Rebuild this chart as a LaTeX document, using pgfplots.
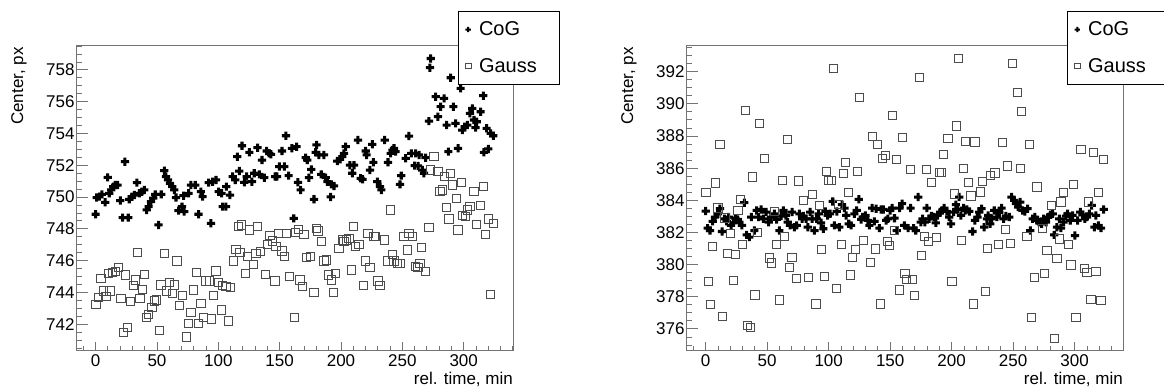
\documentclass[border=0pt]{standalone}
\usepackage{fontspec}
\setmainfont{Liberation Sans}
\usepackage{pgfplots}
\pgfplotsset{compat=1.18}
\newcommand\lbl{\fontsize{17}{20}\selectfont}
\newcommand\lgd{\fontsize{20}{23}\selectfont}
\pgfdeclareplotmark{fatplus}{%
  \pgfpathmoveto{\pgfpoint{-\pgfplotmarksize}{-0.37\pgfplotmarksize}}%
  \pgfpathlineto{\pgfpoint{-0.37\pgfplotmarksize}{-0.37\pgfplotmarksize}}%
  \pgfpathlineto{\pgfpoint{-0.37\pgfplotmarksize}{-\pgfplotmarksize}}%
  \pgfpathlineto{\pgfpoint{0.37\pgfplotmarksize}{-\pgfplotmarksize}}%
  \pgfpathlineto{\pgfpoint{0.37\pgfplotmarksize}{-0.37\pgfplotmarksize}}%
  \pgfpathlineto{\pgfpoint{\pgfplotmarksize}{-0.37\pgfplotmarksize}}%
  \pgfpathlineto{\pgfpoint{\pgfplotmarksize}{0.37\pgfplotmarksize}}%
  \pgfpathlineto{\pgfpoint{0.37\pgfplotmarksize}{0.37\pgfplotmarksize}}%
  \pgfpathlineto{\pgfpoint{0.37\pgfplotmarksize}{\pgfplotmarksize}}%
  \pgfpathlineto{\pgfpoint{-0.37\pgfplotmarksize}{\pgfplotmarksize}}%
  \pgfpathlineto{\pgfpoint{-0.37\pgfplotmarksize}{0.37\pgfplotmarksize}}%
  \pgfpathlineto{\pgfpoint{-\pgfplotmarksize}{0.37\pgfplotmarksize}}%
  \pgfpathclose
  \pgfusepathqfill
}
\pgfplotsset{
  rootaxis/.style={
    scale only axis, width=437pt, height=305pt,
    anchor=south west,
    axis line style={draw=black!55, line width=0.9pt},
    tick style={draw=black!55, line width=0.9pt},
    tick align=inside, xtick pos=left, ytick pos=left,
    xtick={0,50,...,300},
    minor xtick={-10,0,...,340},
    xtick style={/pgfplots/major tick length=8pt, /pgfplots/minor tick length=4pt},
    ytick style={/pgfplots/major tick length=12pt, /pgfplots/minor tick length=6pt},
    tick label style={font=\lbl, text=black},
    yticklabel style={xshift=2pt},
    xticklabel style={yshift=-1.5pt},
    /pgf/number format/assume math mode=true,
    xlabel={rel. time, min}, ylabel={Center, px},
    every axis x label/.style={at={(axis description cs:1,0)}, anchor=north east, inner sep=0pt, yshift=-22pt, font=\lbl},
    every axis y label/.style={at={(axis description cs:-0.1304,0.993)}, rotate=90, anchor=east, inner sep=0pt, font=\lbl},
    legend style={anchor=north west, draw=black, line width=0.6pt, fill=white, font=\lgd,
      row sep=17pt, inner xsep=7pt, inner ysep=8.5pt, column sep=6pt},
    legend cell align=left,
  },
  cogplot/.style={only marks, mark=fatplus, mark size=4.1pt, color=black,
    legend image code/.code={\draw[##1, mark size=2.7pt] plot coordinates {(0pt,0pt)};}},
  gaussplot/.style={only marks, mark=square, mark size=4.1pt, color=black!70, mark options={line width=0.9pt},
    legend image code/.code={\draw[##1, mark size=2.9pt] plot coordinates {(0pt,0pt)};}},
}
\begin{document}
\begin{tikzpicture}
\path[use as bounding box] (0,0) rectangle (1164pt,390pt);
\begin{axis}[rootaxis, at={(76pt,40pt)},
  xmin=-16, xmax=340.2, ymin=740.38, ymax=759.57,
  ytick={742,744,...,758}, minor ytick={740.5,741,...,759.5},
  legend style={at={(axis description cs:0.874,1.1115)}}]
\addplot[cogplot] coordinates {(0,748.92)(0.8,749.97)(3.0,750.03)(5.1,750.17)(7.8,749.67)(9.8,751.24)(11.1,750.24)(12.7,750.45)(14.4,750.66)(16.0,750.76)(17.9,750.76)(20.1,749.78)(22.0,748.71)(23.9,752.23)(26.6,748.71)(27.4,749.86)(29.6,750.03)(31.5,750.13)(33.7,750.91)(35.6,750.24)(37.7,750.34)(39.7,750.45)(41.6,749.19)(43.2,749.40)(45.1,749.72)(47.0,749.93)(48.6,750.17)(51.3,748.25)(53.5,750.17)(56.0,751.66)(57.3,751.29)(59.0,751.08)(60.6,750.87)(62.5,750.66)(64.1,750.45)(65.5,749.97)(67.6,749.15)(70.4,749.40)(72.2,749.09)(71.7,750.09)(75.8,750.24)(77.7,750.76)(81.2,750.76)(83.9,748.92)(85.8,750.34)(87.2,750.03)(92.1,750.91)(94.0,748.35)(95.3,750.97)(98.1,751.08)(100.3,750.34)(102.7,750.24)(103.5,749.40)(106.2,749.40)(106.5,750.66)(109.5,750.13)(111.7,751.29)(113.8,751.08)(115.5,752.54)(117.1,751.64)(119.3,753.23)(121.2,750.93)(123.1,751.29)(125.3,752.82)(127.4,750.97)(129.3,751.50)(132.0,753.11)(133.4,751.43)(135.6,752.33)(137.5,751.22)(139.4,752.90)(141.5,752.75)(142.9,752.69)(146.4,751.29)(147.8,751.29)(149.7,751.92)(151.9,752.90)(153.8,751.92)(155.1,753.86)(157.3,751.35)(160.0,753.07)(161.5,748.66)(163.8,753.17)(164.9,750.93)(167.1,750.45)(171.2,752.48)(172.5,752.33)(173.9,751.22)(175.8,751.74)(178.0,749.86)(179.3,752.82)(180.1,753.28)(182.0,752.65)(183.9,751.43)(186.1,752.65)(187.5,751.22)(188.9,750.97)(191.6,750.01)(192.1,750.80)(194.3,750.70)(197.0,752.27)(199.2,752.38)(201.1,752.54)(202.4,752.75)(203.8,753.17)(207.3,752.01)(209.2,751.50)(210.6,752.01)(213.8,753.59)(216.0,751.18)(217.6,751.12)(220.1,752.90)(220.9,752.65)(223.6,751.70)(225.5,753.32)(226.4,752.19)(229.6,750.97)(231.8,750.66)(232.9,750.45)(235.6,753.59)(238.3,752.19)(240.5,752.75)(241.9,752.96)(243.2,753.07)(244.5,752.86)(248.1,750.80)(249.1,751.35)(252.7,752.44)(255.4,753.84)(257.3,752.75)(260.8,752.75)(260.0,751.98)(263.6,752.65)(262.8,751.96)(266.3,751.70)(267.6,751.50)(268.9,752.48)(271.7,754.78)(272.5,758.14)(273.1,758.72)(277.2,756.32)(284.0,756.21)(279.0,755.06)(281.2,755.69)(286.1,754.53)(287.5,752.86)(289.4,757.51)(291.6,755.69)(293.4,754.64)(295.4,753.07)(297.5,756.84)(298.9,754.22)(300.8,754.43)(303.0,754.53)(305.1,755.27)(307.0,755.58)(308.4,754.85)(310.6,754.74)(309.7,754.37)(313.8,755.37)(316.0,756.38)(316.5,752.82)(318.7,754.33)(320.1,753.03)(322.0,754.01)(324.2,753.86)};
\addlegendentry{\makebox[71pt][l]{CoG}}
\addplot[gaussplot] coordinates {(0.2,743.26)(2.4,743.68)(4.3,744.89)(6.2,744.09)(8.4,743.73)(10.3,745.21)(11.7,744.09)(13.8,745.25)(16.0,745.31)(18.7,745.56)(20.6,743.63)(22.8,741.49)(24.2,745.10)(26.1,741.79)(28.2,743.42)(30.7,744.43)(32.3,744.79)(34.2,746.52)(36.1,743.63)(38.3,744.20)(39.9,745.14)(41.5,742.42)(43.2,742.63)(45.9,743.07)(47.8,743.47)(49.7,743.53)(51.9,741.62)(53.2,744.47)(56.2,746.46)(57.8,744.09)(60.0,744.64)(62.7,743.95)(64.4,744.47)(66.3,745.98)(68.2,743.17)(70.9,743.80)(74.2,741.20)(75.8,742.06)(77.7,742.75)(79.6,744.16)(82.3,745.27)(83.9,742.06)(85.8,743.32)(87.7,742.42)(89.9,744.72)(92.6,744.72)(94.3,742.33)(96.2,743.80)(98.1,745.35)(100.3,744.64)(102.4,742.90)(103.5,744.43)(106.2,744.37)(108.1,742.21)(109.7,744.30)(112.2,745.98)(114.4,746.73)(116.3,748.14)(117.6,746.52)(119.0,748.25)(122.0,745.21)(123.9,746.25)(125.3,747.93)(128.5,745.77)(130.7,746.46)(132.0,748.14)(134.2,746.56)(138.3,745.14)(140.2,747.03)(142.1,747.57)(144.3,747.24)(146.2,744.72)(147.0,746.88)(149.2,747.72)(151.9,746.61)(153.8,746.25)(155.7,747.72)(157.9,745.00)(162.0,742.42)(163.0,747.80)(165.5,747.95)(166.6,744.79)(168.5,744.37)(169.8,747.66)(171.8,746.19)(175.3,746.25)(178.0,744.01)(180.1,748.04)(181.2,747.87)(184.0,747.20)(186.1,745.98)(188.3,746.04)(189.7,745.10)(192.1,744.79)(193.7,744.01)(195.6,745.21)(198.4,746.78)(201.1,747.30)(202.4,747.20)(204.6,747.30)(206.5,747.41)(208.4,745.42)(210.0,748.14)(211.9,746.88)(214.7,747.03)(218.2,744.43)(220.1,745.98)(222.0,747.72)(223.6,745.56)(226.9,747.51)(228.3,747.51)(230.1,744.72)(231.8,744.43)(235.6,747.30)(238.3,745.98)(240.5,749.19)(241.8,746.40)(243.2,745.98)(245.9,745.83)(248.1,745.83)(251.3,747.51)(254.0,746.67)(255.4,747.72)(258.1,747.51)(260.8,745.62)(262.7,745.56)(264.4,745.83)(265.5,746.82)(269.0,745.31)(271.7,748.08)(275.8,752.54)(273.1,751.71)(279.0,751.60)(280.7,750.34)(282.6,750.45)(284.0,751.29)(285.8,749.34)(288.0,748.62)(289.4,751.50)(290.7,750.76)(294.3,749.92)(295.4,747.93)(298.0,750.93)(298.9,748.83)(301.6,748.77)(303.0,749.19)(305.1,749.40)(308.4,750.38)(310.6,748.29)(313.8,749.46)(316.0,750.66)(317.9,747.66)(320.1,748.62)(324.0,748.35)(322.0,743.89)};
\addlegendentry{\makebox[71pt][l]{Gauss}}
\end{axis}
\begin{axis}[rootaxis, at={(686pt,40pt)},
  xmin=-16, xmax=339.3, ymin=374.69, ymax=393.66,
  ytick={376,378,...,392}, minor ytick={375,375.5,...,393.5},
  legend style={at={(axis description cs:0.872,1.1115)}}]
\addplot[cogplot] coordinates {(0,383.33)(1.6,382.27)(3.5,382.12)(5.7,382.69)(7.6,382.96)(9.8,383.16)(11.6,383.48)(13.3,382.06)(15.2,382.85)(17.1,382.69)(18.7,382.96)(20.6,382.44)(22.5,382.60)(24.1,382.89)(26.0,382.81)(27.4,382.64)(29.5,382.44)(31.4,383.85)(33.3,381.85)(35.5,381.71)(37.1,382.96)(39.6,382.12)(41.5,383.37)(43.1,382.96)(45.0,383.43)(46.9,382.85)(49.1,383.27)(51.2,382.64)(53.1,382.96)(55.8,383.16)(57.7,382.81)(59.9,382.12)(61.3,383.02)(63.2,383.37)(65.3,383.06)(66.7,382.64)(68.6,382.44)(70.2,383.27)(72.1,382.33)(74.0,382.44)(76.2,383.16)(78.4,382.85)(79.4,383.02)(81.6,382.85)(83.0,382.33)(84.9,383.27)(86.5,382.85)(88.4,382.12)(90.3,382.85)(91.9,383.16)(93.8,382.60)(95.7,382.23)(97.3,383.31)(99.2,383.06)(101.1,383.16)(103.3,383.93)(104.7,382.44)(106.6,383.31)(108.7,382.33)(110.9,383.73)(112.8,383.52)(114.2,383.06)(116.3,382.54)(118.2,382.44)(120.9,383.16)(122.8,383.37)(124.5,384.06)(126.4,382.81)(127.7,382.96)(129.9,383.06)(131.8,382.75)(133.1,382.44)(135.3,383.52)(137.2,382.69)(138.6,383.48)(141.3,382.27)(142.6,383.43)(144.5,383.43)(146.7,382.75)(148.1,382.85)(150.0,383.37)(151.6,383.52)(153.5,382.89)(155.4,382.12)(157.6,383.52)(159.7,383.79)(161.5,382.44)(164.6,382.27)(166.6,383.52)(169.0,382.27)(170.8,382.12)(172.8,384.20)(174.9,382.64)(176.3,382.85)(178.2,382.64)(179.8,383.52)(181.7,382.85)(183.6,383.02)(185.8,382.96)(187.1,382.60)(188.5,383.06)(190.6,383.27)(192.5,383.37)(193.9,383.52)(196.1,383.31)(198.0,382.96)(199.4,382.54)(201.5,383.27)(203.4,383.73)(204.8,383.43)(206.1,384.20)(207.5,383.06)(209.7,383.52)(211.0,383.37)(212.4,383.43)(214.3,383.31)(217.0,382.06)(218.9,382.75)(221.0,382.96)(222.4,383.27)(224.3,383.48)(226.4,382.33)(228.6,382.85)(229.7,383.06)(231.3,382.54)(232.4,382.85)(234.6,383.37)(236.8,382.96)(238.7,383.23)(240.6,383.52)(242.2,382.85)(244.1,383.02)(246.8,382.96)(248.7,384.20)(250.9,383.99)(252.2,383.79)(254.1,383.58)(255.7,383.89)(257.6,383.37)(259.5,383.31)(261.7,383.48)(263.9,382.12)(265.8,382.85)(267.7,382.96)(269.3,382.75)(271.2,382.64)(273.1,382.54)(274.8,382.85)(276.7,382.64)(278.6,382.96)(280.2,383.10)(282.1,383.16)(283.4,381.85)(285.6,382.33)(287.5,382.85)(288.8,382.27)(291.0,382.64)(292.9,383.02)(294.2,383.16)(296.4,382.75)(298.3,383.06)(300.2,381.81)(302.4,382.75)(304.6,383.27)(306.4,383.10)(308.3,382.85)(310.0,382.96)(311.9,383.16)(313.8,383.68)(316.0,382.33)(317.3,383.06)(319.2,382.44)(321.4,382.27)(323.6,383.43)};
\addlegendentry{\makebox[71pt][l]{CoG}}
\addplot[gaussplot] coordinates {(0.2,384.47)(2.1,378.97)(3.8,377.51)(5.7,381.13)(7.8,385.08)(10.0,383.52)(11.6,387.47)(13.8,376.76)(15.7,382.90)(17.9,380.67)(20.0,381.96)(22.5,379.01)(24.1,380.63)(26.3,383.37)(28.2,384.06)(30.1,381.25)(32.3,389.57)(34.1,376.24)(36.1,376.10)(37.7,385.45)(40.1,378.11)(41.8,382.02)(43.6,388.78)(47.7,386.60)(51.8,380.42)(53.7,380.11)(55.8,383.33)(57.7,381.25)(59.9,377.80)(62.1,385.25)(64.0,381.77)(66.2,387.80)(68.1,379.80)(70.2,380.47)(74.0,379.16)(75.6,385.20)(79.4,384.00)(83.8,379.20)(87.0,384.35)(89.7,377.55)(92.4,383.69)(93.8,380.94)(96.5,379.25)(98.5,385.77)(100.1,385.25)(102.0,385.25)(103.9,392.20)(106.0,378.53)(108.2,383.73)(110.1,381.23)(112.0,385.66)(113.6,386.33)(115.8,384.47)(117.4,379.36)(119.6,380.44)(121.5,380.94)(123.7,385.80)(125.0,390.38)(128.3,381.50)(133.7,380.15)(135.9,387.99)(137.7,380.98)(139.9,387.47)(141.8,377.55)(144.0,386.60)(145.9,386.80)(148.0,381.46)(149.4,381.19)(151.6,389.26)(153.5,382.13)(155.4,386.56)(157.5,378.42)(159.7,387.90)(162.0,379.43)(163.5,379.10)(166.2,385.93)(168.0,379.07)(169.5,378.07)(173.6,391.63)(175.5,380.57)(177.6,381.75)(179.8,385.93)(180.9,381.44)(183.6,385.10)(187.7,381.67)(189.8,385.75)(191.7,385.75)(193.3,386.84)(197.0,387.84)(200.2,378.97)(202.0,384.40)(204.0,388.63)(205.6,392.83)(208.0,381.50)(209.6,386.00)(211.5,387.68)(213.4,385.10)(215.6,384.27)(217.8,377.55)(218.9,387.63)(223.2,384.52)(225.3,385.18)(227.3,378.34)(229.1,381.00)(231.3,385.55)(235.1,385.70)(237.8,381.27)(241.3,387.60)(243.5,382.17)(245.5,386.14)(247.6,381.33)(249.5,392.52)(253.5,390.71)(255.7,386.00)(256.9,389.55)(261.2,381.77)(263.1,387.47)(265.0,376.72)(267.1,379.20)(269.3,384.83)(273.9,382.27)(275.3,379.43)(277.4,380.88)(281.2,383.69)(283.3,375.43)(285.6,380.39)(287.5,381.60)(288.9,383.90)(290.9,384.50)(294.7,381.27)(296.9,379.98)(299.1,384.97)(301.0,376.72)(305.1,387.18)(307.7,379.77)(309.9,379.52)(311.3,383.90)(313.2,377.82)(315.4,386.97)(317.3,379.56)(319.2,384.47)(321.4,377.76)(323.6,386.56)};
\addlegendentry{\makebox[71pt][l]{Gauss}}
\end{axis}
\end{tikzpicture}
\end{document}
